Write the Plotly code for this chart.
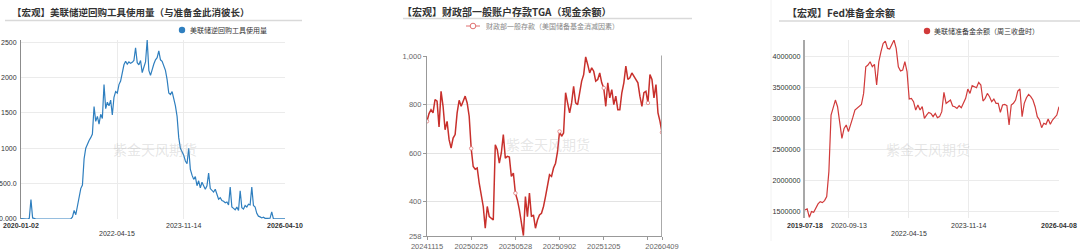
import pandas as pd
import plotly.graph_objects as go

W, H = 1080, 250


def px(x):
    return x / W


def py(y):
    return 1 - y / H


# ---------------- Panel 1: Fed reverse repo usage ----------------
RRP_TITLE = "【宏观】美联储逆回购工具使用量（与准备金此消彼长）"
RRP_NAME = "美联储逆回购工具使用量"
RRP_START, RRP_END = "2020-01-02", "2026-04-10"
RRP_VALUES = [
    5, 2, 3, 1, 0, 10, 275, 15, 2, 0, 0, 0, 1, 0,
    0, 0, 0, 1, 0, 0, 0, 0, 0, 0, 1, 0, 0, 0, 0, 0, 2,
    30, 120, 60, 180, 300, 430, 480, 850, 1000, 1060, 1110, 1150, 1200,
    1590, 1380, 1450, 1340, 1480, 1420, 1900, 1560, 1650, 1600, 1680, 1470, 1720, 1800, 1780, 1900,
    1950, 2050, 2180, 2230, 2190, 2220, 2200, 2215, 2240, 2420, 2210, 2180, 2240, 2070, 2140, 2220, 2530,
    2100, 2030, 2120, 2190, 2250, 2280, 2375, 2250, 2230, 2170, 2100, 1970, 1780, 1760, 1800, 1700, 1600, 1450, 1150, 1000,
    960, 900, 820, 780, 1000, 700, 620, 560, 600, 470, 540, 440, 520, 480, 420, 470, 650, 430, 400, 380, 420, 330, 280,
    300, 260, 250, 230, 240, 200, 450, 170, 150, 130, 170, 120, 400, 160, 140, 190, 170, 210, 200, 450, 190, 170,
    80, 40, 30, 15, 25, 10, 8, 5, 10, 100, 5, 3, 2, 5, 2, 1, 3, 2,
]
RRP_YTICKS = [0, 500, 1000, 1500, 2000, 2500]
RRP_YLABELS = ["0.000", "500.0", "1000", "1500", "2000", "2500"]
RRP_XTICK_DATES = ["2020-01-02", "2022-04-15", "2023-11-14", "2026-04-10"]

# ---------------- Panel 2: TGA ----------------
TGA_TITLE = "【宏观】财政部一般账户存款TGA（现金余额）"
TGA_NAME = "财政部一般存款（美国储备基金消减因素）"
TGA_VALUES = [
    732, 764, 780, 767, 822, 815, 709, 856, 794, 697,
    732, 656, 621, 663, 677, 767, 819, 794, 815, 836,
    808, 753, 620, 545, 534, 539, 476, 435, 380, 290,
    380, 338, 331, 324, 635, 615, 559, 601, 677, 580,
    587, 584, 504, 518, 435, 407, 366, 310, 260, 421,
    338, 435, 338, 345, 290, 324, 345, 352, 380, 421,
    476, 511, 504, 539, 559, 608, 690, 670, 684, 850,
    808, 767, 808, 877, 808, 801, 850, 898, 925, 998,
    967, 932, 953, 939, 898, 905, 932, 891, 870, 794,
    891, 829, 863, 801, 836, 780, 780, 850, 891, 960,
    905, 912, 932, 918, 905, 891, 836, 794, 850, 856,
    808, 925, 905, 829, 884, 767, 732, 686,
]
TGA_TICK_INDEX = [0, 22, 44, 66, 88, 110, 117]
TGA_TICK_LABELS = ["20241115", "20250225", "20250528", "20250902", "20251205", "", "20260409"]
TGA_YTICKS = [258, 400, 600, 800, 1000]
TGA_YLABELS = ["258", "400", "600", "800", "1,000"]

# ---------------- Panel 3: Fed reserves ----------------
RES_TITLE = "【宏观】Fed准备金余额"
RES_NAME = "美联储准备金余额（周三收盘时）"
RES_START, RES_END = "2019-07-18", "2026-04-08"
RES_VALUES_K = [
    1529, 1545, 1410, 1503, 1492, 1567, 1626, 1663, 1647, 1679,
    1743, 2144, 3053, 3171, 3294, 3187, 2893, 2679, 2839, 2893,
    2786, 2920, 3011, 3134, 3160, 3187, 3225, 3401, 3829, 3856,
    3909, 3829, 3866, 3535, 3909, 4070, 4203, 4241, 4123, 4112,
    4187, 4257, 4123, 3829, 3759, 3775, 3909, 3749, 3310, 3321,
    3267, 3134, 3214, 3134, 3187, 3000, 3053, 3096, 3080, 3027,
    3080, 3011, 3027, 3107, 3417, 3241, 3267, 3294, 3198, 3187,
    3160, 3203, 3171, 3241, 3321, 3471, 3401, 3524, 3508, 3492,
    3578, 3535, 3278, 3321, 3401, 3348, 3267, 3310, 3241, 3241,
    3096, 3214, 3225, 3203, 2893, 3214, 3241, 3294, 3438, 3471,
    3027, 3241, 3331, 3385, 3348, 3294, 3187, 3027, 2973, 2850,
    2920, 2904, 2989, 2904, 2973, 3011, 3053, 3187,
]
RES_YTICKS = [1500000, 2000000, 2500000, 3000000, 3500000, 4000000]
RES_XTICK_DATES = ["2019-07-18", "2020-09-13", "2022-04-15", "2023-11-14", "2026-04-08"]

WATERMARK = "紫金天风期货"

BLUE = "#2f7fbf"
RED2 = "#c8302c"
RED3 = "#d13a3a"
CJK = "Noto Sans CJK SC"
LAT = "Liberation Sans"

rrp_dates = pd.date_range(RRP_START, RRP_END, periods=len(RRP_VALUES))
res_dates = pd.date_range(RES_START, RES_END, periods=len(RES_VALUES_K))
res_values = [v * 1000 for v in RES_VALUES_K]
tga_x = list(range(len(TGA_VALUES)))

fig = go.Figure()
fig.add_trace(go.Scatter(x=rrp_dates, y=RRP_VALUES, mode="lines", name=RRP_NAME,
                         line=dict(color=BLUE, width=1.2), xaxis="x", yaxis="y", showlegend=False))
fig.add_trace(go.Scatter(x=tga_x, y=TGA_VALUES, mode="lines", name=TGA_NAME,
                         line=dict(color=RED2, width=1.5), xaxis="x2", yaxis="y2", showlegend=False))
fig.add_trace(go.Scatter(x=[tga_x[i] for i in TGA_TICK_INDEX], y=[TGA_VALUES[i] for i in TGA_TICK_INDEX],
                         mode="markers", marker=dict(size=3.5, color="white", line=dict(color="#e07a7a", width=0.8)),
                         xaxis="x2", yaxis="y2", showlegend=False))
fig.add_trace(go.Scatter(x=res_dates, y=res_values, mode="lines", name=RES_NAME,
                         line=dict(color=RED3, width=1.2), xaxis="x3", yaxis="y3", showlegend=False))

tickfont = dict(size=7, color="#333", family=LAT)
grid = "#ebebeb"

layout = dict(
    width=W, height=H, margin=dict(l=0, r=0, t=0, b=0, autoexpand=False),
    paper_bgcolor="white", plot_bgcolor="white", showlegend=False,
    xaxis=dict(domain=[px(21), px(285)], anchor="y", type="date", range=[RRP_START, RRP_END],
               tickvals=RRP_XTICK_DATES[1:3], showticklabels=False, showgrid=True, gridcolor=grid,
               zeroline=False, showline=False, ticks="", automargin=False),
    yaxis=dict(domain=[py(219), py(40)], anchor="x", range=[0, 2530], tickvals=RRP_YTICKS,
               ticktext=RRP_YLABELS, showline=True, linecolor="#8c8c8c", linewidth=1, gridcolor=grid,
               zeroline=False, ticks="", tickfont=tickfont, ticklabelstandoff=2, automargin=False),
    xaxis2=dict(domain=[px(427), px(662)], anchor="y2", range=[0, len(TGA_VALUES) - 1],
                tickvals=TGA_TICK_INDEX, ticktext=TGA_TICK_LABELS, showgrid=False, zeroline=False,
                showline=True, linecolor="#999", linewidth=1.2, ticks="outside", ticklen=3, tickcolor="#999",
                tickfont=dict(size=7.5, color="#666", family=LAT), automargin=False),
    yaxis2=dict(domain=[py(236), py(55.5)], anchor="x2", range=[258, 1004], tickvals=TGA_YTICKS,
                ticktext=TGA_YLABELS, showline=True, linecolor="#999", linewidth=1.2, gridcolor="#e3e3e3",
                zeroline=False, ticks="outside", ticklen=3, tickcolor="#999",
                tickfont=dict(size=7.5, color="#666", family=LAT), automargin=False),
    xaxis3=dict(domain=[px(805), px(1059)], anchor="y3", type="date", range=[RES_START, RES_END],
                tickvals=RES_XTICK_DATES[1:4], showticklabels=False, showgrid=True, gridcolor=grid,
                zeroline=False, showline=False, ticks="", automargin=False),
    yaxis3=dict(domain=[py(218), py(40)], anchor="x3", range=[1400000, 4258000], tickvals=RES_YTICKS,
                tickformat="d", showline=True, linecolor="#a8a8a8", linewidth=2, gridcolor=grid,
                zeroline=False, ticks="", tickfont=dict(size=7.2, color="#333", family=LAT),
                ticklabelstandoff=1, automargin=False),
)

annotations = []
shapes = []


def text(x, y, s, size, color="#333", family=CJK, xanchor="left", xref="paper"):
    annotations.append(dict(x=x, y=y, xref=xref, yref="paper", text=s, showarrow=False,
                            xanchor=xanchor, yanchor="middle", font=dict(size=size, color=color, family=family)))


# titles
text(px(10), py(12), "<b>" + RRP_TITLE + "</b>", 9.5)
text(px(400), py(11), "<b>" + TGA_TITLE + "</b>", 10)
text(px(785), py(12), "<b>" + RES_TITLE + "</b>", 10)
for x0, x1, yy in [(5, 302, 20.5), (403, 692, 18.5), (779, 1080, 21)]:
    shapes.append(dict(type="line", xref="paper", yref="paper", x0=px(x0), x1=px(x1), y0=py(yy), y1=py(yy),
                       line=dict(color="#d9d9d9", width=1.5)))

# legends
shapes.append(dict(type="circle", xref="paper", yref="paper", x0=px(178.8), x1=px(185.2), y0=py(33.2), y1=py(26.8),
                   fillcolor=BLUE, line=dict(color=BLUE, width=0)))
text(px(188), py(30), RRP_NAME, 7)
shapes.append(dict(type="line", xref="paper", yref="paper", x0=px(466), x1=px(480), y0=py(26), y1=py(26),
                   line=dict(color="#e07070", width=1)))
shapes.append(dict(type="circle", xref="paper", yref="paper", x0=px(470.2), x1=px(475.8), y0=py(28.8), y1=py(23.2),
                   fillcolor="white", line=dict(color="#e07070", width=1)))
text(px(484), py(26), TGA_NAME, 7, color="#888")
shapes.append(dict(type="circle", xref="paper", yref="paper", x0=px(923.8), x1=px(930.2), y0=py(34.2), y1=py(27.8),
                   fillcolor=RED3, line=dict(color=RED3, width=0)))
text(px(932), py(31), RES_NAME, 7)

# custom x labels (first/last bold, staggered middle)
for i, d in enumerate(RRP_XTICK_DATES):
    bold = i in (0, len(RRP_XTICK_DATES) - 1)
    yy = 233.7 if d == "2022-04-15" else 225.7
    text(d, py(yy), ("<b>%s</b>" % d) if bold else d, 7, family=LAT, xanchor="center", xref="x")
for i, d in enumerate(RES_XTICK_DATES):
    bold = i in (0, len(RES_XTICK_DATES) - 1)
    yy = 233.7 if d == "2022-04-15" else 225.7
    text(d, py(yy), ("<b>%s</b>" % d) if bold else d, 7, family=LAT, xanchor="center", xref="x3")

# right border of TGA panel
shapes.append(dict(type="line", xref="x2", yref="y2 domain", x0=len(TGA_VALUES) - 1, x1=len(TGA_VALUES) - 1,
                   y0=0, y1=1, line=dict(color="#aaa", width=2)))
# faint panel divider
shapes.append(dict(type="line", xref="paper", yref="paper", x0=px(771), x1=px(771), y0=py(0), y1=py(241),
                   line=dict(color="#f2f2f2", width=1), layer="below"))

# watermarks
for cx, cy in [(155, 149), (548, 144), (928, 149)]:
    text(px(cx), py(cy), WATERMARK, 14, color="rgba(170,170,170,0.3)", xanchor="center")

layout["annotations"] = annotations
layout["shapes"] = shapes
fig.update_layout(**layout)
fig.write_html("out.html")
